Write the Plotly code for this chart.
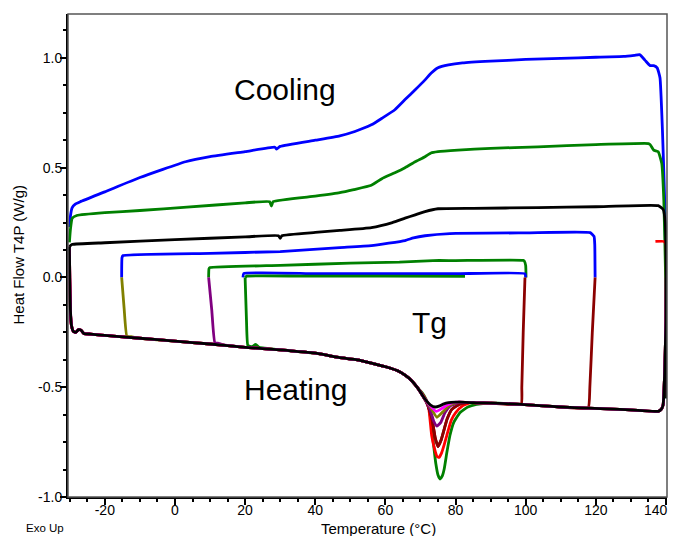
import plotly.graph_objects as go

# ---------------- Cooling curves (temperature °C, heat flow W/g) ----------------
cool_blue1_T = [140.1, 140.0, 139.6, 139.0, 138.3, 137.5, 136.5, 135.5, 134.0, 132.5, 131.0, 128, 120, 110, 100, 90, 82,
                78, 75, 73, 71.3, 68.5, 65.6, 62.7, 59, 56, 51.3, 47, 40, 30, 29, 28.5, 20, 10, 3, -10, -20, -27,
                -28.5, -29.3, -29.8, -30.0]
cool_blue1_Y = [-0.55, 0.0, 0.37, 0.67, 0.91, 0.955, 0.965, 0.965, 0.99, 1.015, 1.012, 1.007, 1.003, 0.998, 0.993,
                0.985, 0.977, 0.968, 0.955, 0.93, 0.90, 0.855, 0.81, 0.764, 0.725, 0.695, 0.665, 0.645, 0.625, 0.597,
                0.585, 0.593, 0.573, 0.55, 0.527, 0.455, 0.39, 0.345, 0.333, 0.318, 0.28, 0.23]

cool_green1_T = [140.1, 139.9, 139.4, 138.8, 137.8, 136.5, 135.5, 135.0, 120, 103.5, 90, 80.7, 75, 73, 71.3, 68.5,
                 65.6, 62.7, 59, 56, 51, 47, 40, 28, 27.5, 27, 20, 3.4, -10, -20, -28, -29.3, -29.8, -30.1]
cool_green1_Y = [-0.55, 0.0, 0.35, 0.52, 0.573, 0.58, 0.605, 0.61, 0.605, 0.595, 0.588, 0.58, 0.573, 0.567, 0.55,
                 0.527, 0.50, 0.477, 0.45, 0.42, 0.40, 0.386, 0.37, 0.345, 0.325, 0.345, 0.34, 0.32, 0.305, 0.295,
                 0.282, 0.27, 0.22, 0.16]

cool_black1_T = [140.2, 140.1, 139.8, 139.2, 137.8, 120, 103.5, 85, 75, 71.3, 68.5, 65.6, 62, 56, 47, 40, 30.5,
                 30, 29.5, 20, 0, -20, -29.4, -30.1]
cool_black1_Y = [-0.55, 0.0, 0.25, 0.31, 0.327, 0.322, 0.318, 0.315, 0.313, 0.30, 0.285, 0.27, 0.25, 0.227, 0.214,
                 0.205, 0.19, 0.178, 0.19, 0.185, 0.172, 0.158, 0.15, 0.14]

cool_blue2_T = [119.8, 119.7, 119.5, 118.4, 100, 78.4, 71.3, 68, 65.6, 56, 47, 30, 10, -14.8, -15.1, -15.2]
cool_blue2_Y = [0.0, 0.15, 0.187, 0.204, 0.203, 0.20, 0.19, 0.18, 0.168, 0.145, 0.136, 0.118, 0.11, 0.10, 0.09, 0.0]

cool_green2_T = [100.1, 100.0, 99.6, 99.3, 80, 73.6, 64, 50, 30, 10, 9.7, 9.6]
cool_green2_Y = [0.0, 0.055, 0.075, 0.078, 0.077, 0.077, 0.07, 0.065, 0.055, 0.045, 0.04, 0.0]

cool_blue3_T = [100.0, 99.8, 80, 60, 40, 19.6, 19.4]
cool_blue3_Y = [0.0, 0.017, 0.017, 0.017, 0.017, 0.018, 0.0]

cool_green3_T = [82.7, 60, 40, 20.5, 20.0]
cool_green3_Y = [0.005, 0.006, 0.006, 0.006, 0.0]

# ---------------- Heating curves: shared baseline ----------------
heat_pre_T = [-29.5, -29.0, -28.3, -27.5, -26.8, -26.0, -24, -20, -10, 0, 10, 20, 30, 40, 47, 52, 56, 60.8,
              63.5, 65.6, 67.5, 69.3]
heat_pre_Y = [-0.22, -0.245, -0.25, -0.238, -0.24, -0.255, -0.258, -0.264, -0.277, -0.29, -0.303, -0.318, -0.33,
              -0.345, -0.365, -0.375, -0.39, -0.41, -0.425, -0.445, -0.47, -0.505]
heat_post_T = [81, 84.4, 86, 90, 98.7, 105, 110, 117.8, 125, 132, 137.8]
heat_post_Y = [-0.568, -0.57, -0.571, -0.572, -0.578, -0.585, -0.59, -0.595, -0.60, -0.605, -0.61]

# Endotherm dips near 75 °C, one per run
dip_black_T = [70.5, 71.6, 72.8, 74.2, 75.5, 76.5, 78, 80]
dip_black_Y = [-0.535, -0.56, -0.58, -0.59, -0.585, -0.577, -0.570, -0.568]
dip_pink_T = [70.5, 71.6, 72.8, 74.5, 76, 77.5, 79, 80.5]
dip_pink_Y = [-0.535, -0.56, -0.585, -0.61, -0.598, -0.582, -0.572, -0.568]
dip_olive_T = [70.5, 71.6, 72.8, 74.7, 76.4, 78, 80]
dip_olive_Y = [-0.535, -0.562, -0.59, -0.637, -0.612, -0.585, -0.572]
dip_purple_T = [70.5, 71.6, 72.7, 73.8, 74.7, 75.8, 77, 78.5, 80.5]
dip_purple_Y = [-0.535, -0.565, -0.6, -0.655, -0.677, -0.66, -0.615, -0.585, -0.572]
dip_maroon_T = [70.5, 71.6, 72.5, 73.3, 74.2, 75.0, 75.9, 77.6, 79, 81, 83]
dip_maroon_Y = [-0.535, -0.565, -0.6, -0.645, -0.73, -0.77, -0.74, -0.645, -0.6, -0.578, -0.57]
dip_red_T = [70.5, 71.6, 72.4, 73.2, 74.0, 74.7, 75.3, 76.0, 76.8, 77.5, 78.8, 80.1, 82, 84]
dip_red_Y = [-0.53, -0.56, -0.6, -0.72, -0.78, -0.815, -0.82, -0.8, -0.76, -0.72, -0.65, -0.615, -0.585, -0.572]
dip_green_T = [70.5, 71.6, 72.5, 73.2, 73.8, 74.4, 75.0, 75.6, 76.2, 76.8, 77.5, 78.4, 79.5, 81.3, 83.5, 86]
dip_green_Y = [-0.525, -0.555, -0.6, -0.68, -0.77, -0.85, -0.9, -0.918, -0.905, -0.87, -0.8, -0.72, -0.66,
               -0.615, -0.59, -0.578]

# Start segments (switch from cooling to heating)
start_m30_black_T = [-30.1, -30.0, -29.8]
start_m30_black_Y = [0.14, 0.0, -0.15]
start_m30_maroon_T = [-30.1, -30.0, -29.8]
start_m30_maroon_Y = [0.14, 0.0, -0.16]
start_m15_T = [-15.2, -14.5, -13.7, -12.5]
start_m15_Y = [0.0, -0.14, -0.268, -0.27]
start_10_T = [9.6, 10.5, 11.4, 12.5, 13.5]
start_10_Y = [0.0, -0.15, -0.298, -0.30, -0.306]
start_20_T = [20.0, 20.4, 20.8, 22, 23, 24]
start_20_Y = [0.0, -0.2, -0.31, -0.315, -0.305, -0.318]

# End segments (switch from heating to cooling)
end_140_T = [138.7, 139.2, 139.6, 140.0, 140.1]
end_140_Y = [-0.60, -0.58, -0.45, -0.2, 0.0]
end_140_red_T = [138.7, 139.2, 139.6, 140.0, 140.1, 140.0, 139.5, 137.0]
end_140_red_Y = [-0.60, -0.58, -0.45, -0.2, 0.1, 0.15, 0.164, 0.164]
end_120_T = [118.3, 119.0, 119.8]
end_120_Y = [-0.5, -0.25, 0.0]
end_100_T = [98.9, 99.3, 99.8]
end_100_Y = [-0.5, -0.25, 0.0]

x_tick_vals = [-20, 0, 20, 40, 60, 80, 100, 120, 140]
x_tick_text = ["-20", "0", "20", "40", "60", "80", "100", "120", ""]
x_last_tick_label = "140"
y_tick_vals = [-1.0, -0.5, 0.0, 0.5, 1.0]
y_tick_text = ["-1.0", "-0.5", "0.0", "0.5", "1.0"]


def heating(start_T, start_Y, dip_T, dip_Y, end_T, end_Y):
    t0 = start_T[-1]
    pre = [(t, y) for t, y in zip(heat_pre_T, heat_pre_Y) if t0 < t < dip_T[0]]
    t1 = dip_T[-1]
    t2 = end_T[0]
    post = [(t, y) for t, y in zip(heat_post_T, heat_post_Y) if t1 < t < t2]
    xs = list(start_T) + [p[0] for p in pre] + list(dip_T) + [p[0] for p in post] + list(end_T)
    ys = list(start_Y) + [p[1] for p in pre] + list(dip_Y) + [p[1] for p in post] + list(end_Y)
    return xs, ys


BLUE = "#0000FF"
GREEN = "#008000"
BLACK = "#000000"
RED = "#FF0000"
MAROON = "#8B0000"
PURPLE = "#800080"
OLIVE = "#808000"
PINK = "#FF00FF"

fig = go.Figure()


def add(x, y, color, w=2.8):
    fig.add_trace(go.Scatter(x=x, y=y, mode="lines",
                             line=dict(color=color, width=w, shape="spline", smoothing=0.4),
                             hoverinfo="skip", showlegend=False))


# cooling curves
add(cool_blue1_T, cool_blue1_Y, BLUE)
add(cool_green1_T, cool_green1_Y, GREEN)
add(cool_blue2_T, cool_blue2_Y, BLUE)
add(cool_green2_T, cool_green2_Y, GREEN)
add(cool_blue3_T, cool_blue3_Y, BLUE)
add(cool_green3_T, cool_green3_Y, GREEN)

# heating curves (deepest dip first so shallower ones sit on top)
add(*heating(start_20_T, start_20_Y, dip_green_T, dip_green_Y, end_140_T, end_140_Y), GREEN)
add(*heating(start_m30_maroon_T, start_m30_maroon_Y, dip_red_T, dip_red_Y, end_140_red_T, end_140_red_Y), RED)
add(*heating(start_m30_maroon_T, start_m30_maroon_Y, dip_maroon_T, dip_maroon_Y, end_120_T, end_120_Y), MAROON)
add(*heating(start_m30_maroon_T, start_m30_maroon_Y, dip_maroon_T, dip_maroon_Y, end_100_T, end_100_Y), MAROON)
add(*heating(start_10_T, start_10_Y, dip_purple_T, dip_purple_Y, end_140_T, end_140_Y), PURPLE)
add(*heating(start_m15_T, start_m15_Y, dip_olive_T, dip_olive_Y, end_140_T, end_140_Y), OLIVE)
add(*heating(start_m30_black_T, start_m30_black_Y, dip_pink_T, dip_pink_Y, end_140_T, end_140_Y), PINK)
add(cool_black1_T, cool_black1_Y, BLACK)
add(*heating(start_m30_black_T, start_m30_black_Y, dip_black_T, dip_black_Y, end_140_T, end_140_Y), BLACK)

FONT = "Liberation Sans, Arial, sans-serif"

# The page body adds an 8 px margin and the figure fills the remaining width (662 px),
# so margins are chosen to put the plot box at x 68..667, y 14..497 in the window.
fig.update_layout(
    width=662, height=536,
    autosize=False,
    margin=dict(l=60, r=3, t=6, b=47),
    paper_bgcolor="white", plot_bgcolor="white",
    font=dict(family=FONT, size=14, color="black"),
    xaxis=dict(range=[-30.5, 140.3], tickvals=x_tick_vals, ticktext=x_tick_text, automargin=False,
               showgrid=False, zeroline=False, showline=True, linecolor="black", linewidth=2,
               ticks="outside", ticklen=6, tickwidth=1.5, tickcolor="black",
               ticklabelstandoff=-7, ticklabeloverflow="allow",
               minor=dict(dtick=5, tick0=0, ticks="outside", ticklen=3, tickwidth=1.5, tickcolor="black"),
               tickfont=dict(size=14)),
    yaxis=dict(range=[-1.0, 1.2], tickvals=y_tick_vals, ticktext=y_tick_text, automargin=False,
               showgrid=False, zeroline=False, showline=True, linecolor="black", linewidth=2,
               ticks="outside", ticklen=6, tickwidth=1.5, tickcolor="black",
               ticklabelstandoff=-5, ticklabeloverflow="allow",
               minor=dict(dtick=0.125, tick0=0, ticks="outside", ticklen=3, tickwidth=1.5, tickcolor="black"),
               tickfont=dict(size=14)),
    shapes=[dict(type="rect", xref="paper", yref="paper", x0=0, x1=1, y0=0, y1=1,
                 line=dict(color="#555555", width=1.5), fillcolor="rgba(0,0,0,0)", layer="above")],
    annotations=[
        dict(text="Cooling", x=31.4, y=0.855, xref="x", yref="y", showarrow=False,
             font=dict(size=30, family=FONT)),
        dict(text="Tg", x=72.7, y=-0.205, xref="x", yref="y", showarrow=False,
             font=dict(size=30, family=FONT)),
        dict(text="Heating", x=34.5, y=-0.51, xref="x", yref="y", showarrow=False,
             font=dict(size=30, family=FONT)),
        dict(text=x_last_tick_label, xref="paper", yref="paper", x=1, xshift=3, xanchor="right",
             y=0, yshift=-13, yanchor="middle", showarrow=False, font=dict(size=14, family=FONT)),
        dict(text="Heat Flow T4P (W/g)", textangle=-90, xref="paper", yref="paper",
             x=0, xshift=-50, xanchor="center", y=0.5, yanchor="middle", showarrow=False,
             font=dict(size=15, family=FONT)),
        dict(text="Temperature (°C)", xref="paper", yref="paper", x=0, xshift=310, xanchor="center",
             y=0, yshift=-31, yanchor="middle", showarrow=False, font=dict(size=15, family=FONT)),
        dict(text="Exo Up", xref="paper", yref="paper", x=0, xshift=-44, xanchor="left",
             y=0, yshift=-31, yanchor="middle", showarrow=False, font=dict(size=11.5, family=FONT)),
    ],
)

fig.write_html("out.html")
